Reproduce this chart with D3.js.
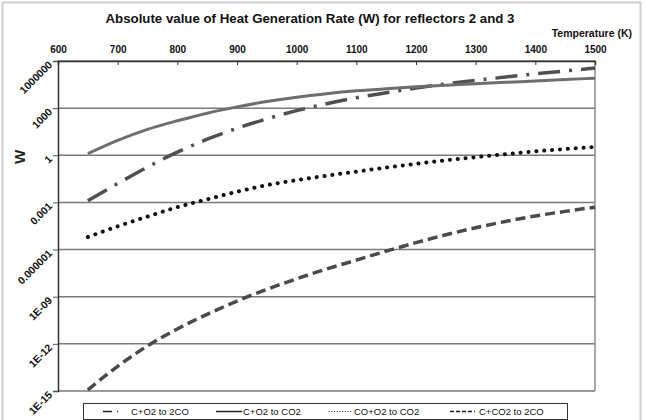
<!DOCTYPE html>
<html>
<head>
<meta charset="utf-8">
<script src="https://cdn.jsdelivr.net/npm/d3@7"></script>
<style>
body{margin:0;background:#fff;}
svg{display:block;font-family:"Liberation Sans",Arial,sans-serif;}
</style>
</head>
<body>
<div id="chart"></div>
<script>
// temperatures (K) where the rates were read
var temps=[650,700,750,800,850,900,950,1000,1050,1100,1150,1200,1250,1300,1350,1400,1450,1500];
// heat generation rate, W (absolute value)
var cO2to2CO=[1.26e-3,1.58e-2,0.178,1.58,10.5,52.5,209,692,1.91e3,4.57e3,9.55e3,1.91e4,3.47e4,5.89e4,9.55e4,1.51e5,2.34e5,3.55e5];
var cO2toCO2=[1.26,8.9,44.7,158,479,1.2e3,2.63e3,5.01e3,8.32e3,1.26e4,1.74e4,2.29e4,2.88e4,3.55e4,4.37e4,5.37e4,6.61e4,8.13e4];
var coO2toCO2=[6.3e-6,3.02e-5,1.26e-4,5.0e-4,1.58e-3,4.79e-3,1.26e-2,2.63e-2,5.01e-2,9.12e-2,0.166,0.288,0.479,0.759,1.17,1.78,2.51,3.39];
var cCO2to2CO=[1.17e-15,3.72e-14,7.41e-13,8.91e-12,7.59e-11,5.25e-10,2.95e-9,1.38e-8,5.75e-8,2.14e-7,7.94e-7,2.75e-6,8.71e-6,2.45e-5,6.17e-5,1.38e-4,2.69e-4,5.01e-4];

var xTicks=[600,700,800,900,1000,1100,1200,1300,1400,1500];
var yTicks=[1e6,1e3,1,1e-3,1e-6,1e-9,1e-12,1e-15];
var yTickLabels=["1000000","1000","1","0.001","0.000001","1E-09","1E-12","1E-15"];

var series=[
 {name:"C+O2 to 2CO",values:cO2to2CO,color:"#505050",width:3.5,dash:"22,9,3,9",cap:"butt"},
 {name:"C+O2 to CO2",values:cO2toCO2,color:"#6e6e6e",width:3,dash:null,cap:"butt"},
 {name:"CO+O2 to CO2",values:coO2toCO2,color:"#111",width:4,dash:"0.1,7.8",cap:"round"},
 {name:"C+CO2 to 2CO",values:cCO2to2CO,color:"#4a4a4a",width:3.5,dash:"10,5",cap:"butt"}
];

var W=645,H=420;
var L=58,R=595,T=61,B=391;

var svg=d3.select("#chart").append("svg").attr("width",W).attr("height",H);

// outer frame
svg.append("rect").attr("x",2.5).attr("y",2.5).attr("width",638).attr("height",440)
 .attr("fill","#fff").attr("stroke","#cfcfcf").attr("stroke-width",2);

var x=d3.scaleLinear().domain([600,1500]).range([L,R]);
var y=d3.scaleLog().domain([1e-15,1e6]).range([B,T]);

// gridlines
svg.append("g").selectAll("line").data(yTicks).enter().append("line")
 .attr("x1",L).attr("x2",R).attr("y1",function(d){return y(d);}).attr("y2",function(d){return y(d);})
 .attr("stroke","#7a7a7a").attr("stroke-width",1.5);

// plot border right
svg.append("line").attr("x1",R).attr("x2",R).attr("y1",T).attr("y2",B).attr("stroke","#8a8a8a").attr("stroke-width",1.5);

// top axis
var xa=svg.append("g").attr("transform","translate(0,"+T+")")
 .call(d3.axisTop(x).tickValues(xTicks).tickSize(-4).tickPadding(8).tickFormat(d3.format("d")));
xa.select(".domain").attr("stroke","#333").attr("stroke-width",1.5);
xa.selectAll(".tick line").attr("stroke","#333");
xa.selectAll("text").attr("font-size",10).attr("font-weight","bold").attr("fill","#111");

// left axis, labels turned 45 degrees
var ya=svg.append("g").attr("transform","translate("+L+",0)")
 .call(d3.axisLeft(y).tickValues(yTicks).tickSize(5).tickFormat(function(d,i){return yTickLabels[i];}));
ya.select(".domain").attr("stroke","#333").attr("stroke-width",1.5);
ya.selectAll(".tick line").attr("stroke","#555");
ya.selectAll("text").attr("x",null).attr("dy",null)
 .attr("text-anchor","end").attr("transform","translate(-5,4) rotate(-45)")
 .attr("font-size",10.5).attr("font-weight","bold").attr("fill","#111");

// curves
var line=d3.line().x(function(d){return x(d[0]);}).y(function(d){return y(d[1]);}).curve(d3.curveMonotoneX);
series.forEach(function(s){
 svg.append("path").attr("d",line(d3.zip(temps,s.values)))
  .attr("fill","none").attr("stroke",s.color).attr("stroke-width",s.width)
  .attr("stroke-dasharray",s.dash).attr("stroke-linecap",s.cap);
});

// titles
svg.append("text").attr("x",310).attr("y",23).attr("text-anchor","middle")
 .attr("font-size",13).attr("font-weight","bold").attr("fill","#111")
 .attr("textLength",409).attr("lengthAdjust","spacingAndGlyphs")
 .text("Absolute value of Heat Generation Rate (W) for reflectors 2 and 3");
svg.append("text").attr("x",632).attr("y",37).attr("text-anchor","end")
 .attr("font-size",10.5).attr("font-weight","bold").attr("fill","#111").text("Temperature (K)");
svg.append("text").attr("transform","translate(25,157) rotate(-90)").attr("text-anchor","middle")
 .attr("font-size",15).attr("font-weight","bold").attr("fill","#222").text("W");

// legend
var lg=svg.append("g");
lg.append("rect").attr("x",83.5).attr("y",403.5).attr("width",484).attr("height",16)
 .attr("fill","#fff").attr("stroke","#333").attr("stroke-width",1);
var legX=[[103,118,131],[216,242,243],[329,352,354],[450,475,479]];
var legDash=["9,5,2,5",null,"0.1,2.6","4,2"];
series.forEach(function(s,i){
 var p=legX[i];
 lg.append("line").attr("x1",p[0]).attr("x2",p[1]).attr("y1",411.5).attr("y2",411.5)
  .attr("stroke","#222").attr("stroke-width",i===2?1.2:1.5).attr("stroke-dasharray",legDash[i]).attr("stroke-linecap",s.cap);
 lg.append("text").attr("x",p[2]).attr("y",415).attr("font-size",9.5).attr("fill","#111").text(s.name);
});
</script>
</body>
</html>
